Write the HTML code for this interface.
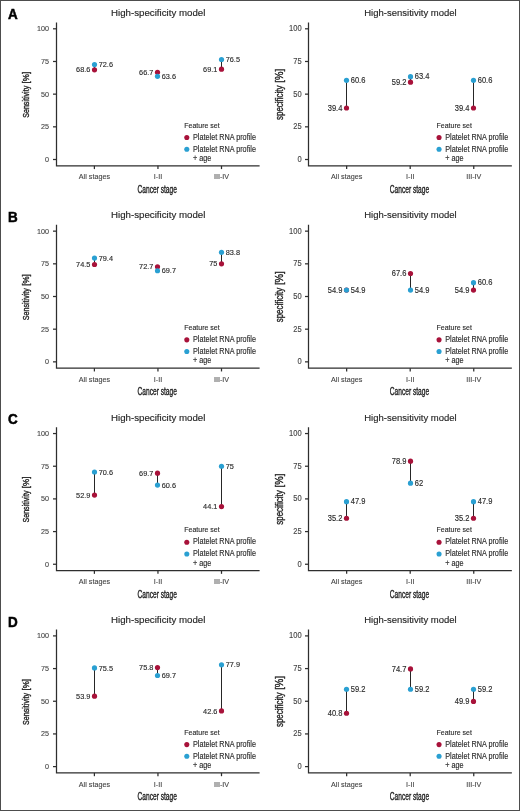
<!DOCTYPE html>
<html><head><meta charset="utf-8"><style>
html,body{margin:0;padding:0;background:#fff;}
svg{display:block;font-family:"Liberation Sans", sans-serif;filter:blur(0.3px);}
.s{fill:#2b2b2b;stroke:#2b2b2b;stroke-width:0.14px;}
.k{fill:#444;stroke:#444;stroke-width:0.12px;}
.t{fill:#262626;stroke:#262626;stroke-width:0.15px;}
.at{fill:#262626;stroke:#262626;stroke-width:0.38px;}
.l{fill:#000;stroke:#000;stroke-width:0.5px;font-weight:bold;}
.ax{fill:none;stroke:#2e2e2e;stroke-width:1.25px;}
.seg{fill:none;stroke:#262626;stroke-width:1.0px;}
</style></head><body>
<svg width="520" height="811" viewBox="0 0 520 811">
<rect x="0" y="0" width="520" height="811" fill="#fff"/>
<g transform="translate(0,0)">
<text transform="translate(158.2,15.8) scale(0.990,1)" text-anchor="middle" font-size="9.8" class="t">High-specificity model</text>
<text transform="translate(8.0,19.4) scale(0.955,1)" font-size="14.1" class="l">A</text>
<path d="M56.5,22.5V165.8H259.6" class="ax"/>
<path d="M53.0,159.50H56.5" class="ax"/>
<text transform="translate(49.00,162.05) scale(0.8929,1)" text-anchor="end" font-size="8.064" class="k">0</text>
<path d="M53.0,126.83H56.5" class="ax"/>
<text transform="translate(49.00,129.38) scale(0.8929,1)" text-anchor="end" font-size="8.064" class="k">25</text>
<path d="M53.0,94.15H56.5" class="ax"/>
<text transform="translate(49.00,96.70) scale(0.8929,1)" text-anchor="end" font-size="8.064" class="k">50</text>
<path d="M53.0,61.48H56.5" class="ax"/>
<text transform="translate(49.00,64.03) scale(0.8929,1)" text-anchor="end" font-size="8.064" class="k">75</text>
<path d="M53.0,28.80H56.5" class="ax"/>
<text transform="translate(49.00,31.35) scale(0.8929,1)" text-anchor="end" font-size="8.064" class="k">100</text>
<path d="M94.4,165.8V169.10000000000002" class="ax"/>
<text transform="translate(94.40,179.40) scale(0.8929,1)" text-anchor="middle" font-size="8.064" class="k">All stages</text>
<path d="M157.95,165.8V169.10000000000002" class="ax"/>
<text transform="translate(157.95,179.40) scale(0.8929,1)" text-anchor="middle" font-size="8.064" class="k">I-II</text>
<path d="M221.5,165.8V169.10000000000002" class="ax"/>
<text transform="translate(221.50,179.40) scale(0.8929,1)" text-anchor="middle" font-size="8.064" class="k">III-IV</text>
<text transform="translate(157.2,193.0) scale(0.637,1)" text-anchor="middle" font-size="10.4" class="at">Cancer stage</text>
<text transform="translate(29.4,117.8) rotate(-90) scale(0.7562,1)" font-size="9.4" class="at">Sensitivity</text>
<text transform="translate(29.4,83.4) rotate(-90) scale(0.8541,1)" font-size="9.4" class="at">[%]</text>
<text transform="translate(184.30,127.70) scale(0.8929,1)" font-size="7.840" class="s">Feature set</text>
<circle cx="186.8" cy="137.5" r="2.55" fill="#a8123a"/>
<circle cx="186.8" cy="149.2" r="2.55" fill="#2aa0d2"/>
<text transform="translate(193.00,139.70) scale(0.8929,1)" font-size="8.142" class="s">Platelet RNA profile</text>
<text transform="translate(193.00,151.60) scale(0.8929,1)" font-size="8.142" class="s">Platelet RNA profile</text>
<text transform="translate(193.00,160.90) scale(0.8929,1)" font-size="8.142" class="s">+ age</text>
<path d="M94.5,69.84V64.61" class="seg"/>
<circle cx="94.5" cy="69.84" r="2.6" fill="#a8123a"/>
<circle cx="94.5" cy="64.61" r="2.6" fill="#2aa0d2"/>
<text transform="translate(90.40,72.44) scale(0.9524,1)" text-anchor="end" font-size="7.718" class="s">68.6</text>
<text transform="translate(98.70,67.21) scale(0.9524,1)" font-size="7.718" class="s">72.6</text>
<path d="M157.5,72.32V76.37" class="seg"/>
<circle cx="157.5" cy="72.32" r="2.6" fill="#a8123a"/>
<circle cx="157.5" cy="76.37" r="2.6" fill="#2aa0d2"/>
<text transform="translate(153.40,74.92) scale(0.9524,1)" text-anchor="end" font-size="7.718" class="s">66.7</text>
<text transform="translate(161.70,78.97) scale(0.9524,1)" font-size="7.718" class="s">63.6</text>
<path d="M221.5,69.19V59.51" class="seg"/>
<circle cx="221.5" cy="69.19" r="2.6" fill="#a8123a"/>
<circle cx="221.5" cy="59.51" r="2.6" fill="#2aa0d2"/>
<text transform="translate(217.40,71.79) scale(0.9524,1)" text-anchor="end" font-size="7.718" class="s">69.1</text>
<text transform="translate(225.70,62.11) scale(0.9524,1)" font-size="7.718" class="s">76.5</text>
</g>
<g transform="translate(252.25,0)">
<text transform="translate(158.2,15.8) scale(0.972,1)" text-anchor="middle" font-size="9.8" class="t">High-sensitivity model</text>
<path d="M56.25,22.5V165.8H259.6" class="ax"/>
<path d="M52.75,159.50H56.25" class="ax"/>
<text transform="translate(49.40,162.05) scale(0.8929,1)" text-anchor="end" font-size="8.456" class="k">0</text>
<path d="M52.75,126.83H56.25" class="ax"/>
<text transform="translate(49.40,129.38) scale(0.8929,1)" text-anchor="end" font-size="8.456" class="k">25</text>
<path d="M52.75,94.15H56.25" class="ax"/>
<text transform="translate(49.40,96.70) scale(0.8929,1)" text-anchor="end" font-size="8.456" class="k">50</text>
<path d="M52.75,61.48H56.25" class="ax"/>
<text transform="translate(49.40,64.03) scale(0.8929,1)" text-anchor="end" font-size="8.456" class="k">75</text>
<path d="M52.75,28.80H56.25" class="ax"/>
<text transform="translate(49.40,31.35) scale(0.8929,1)" text-anchor="end" font-size="8.456" class="k">100</text>
<path d="M94.4,165.8V169.10000000000002" class="ax"/>
<text transform="translate(94.40,179.40) scale(0.8929,1)" text-anchor="middle" font-size="8.064" class="k">All stages</text>
<path d="M157.95,165.8V169.10000000000002" class="ax"/>
<text transform="translate(157.95,179.40) scale(0.8929,1)" text-anchor="middle" font-size="8.064" class="k">I-II</text>
<path d="M221.5,165.8V169.10000000000002" class="ax"/>
<text transform="translate(221.50,179.40) scale(0.8929,1)" text-anchor="middle" font-size="8.064" class="k">III-IV</text>
<text transform="translate(157.2,193.0) scale(0.637,1)" text-anchor="middle" font-size="10.4" class="at">Cancer stage</text>
<text transform="translate(30.6,120.0) rotate(-90) scale(0.7903,1)" font-size="10.1" class="at">specificity</text>
<text transform="translate(30.6,82.7) rotate(-90) scale(0.9457,1)" font-size="10.1" class="at">[%]</text>
<text transform="translate(184.30,127.70) scale(0.8929,1)" font-size="7.840" class="s">Feature set</text>
<circle cx="186.8" cy="137.5" r="2.55" fill="#a8123a"/>
<circle cx="186.8" cy="149.2" r="2.55" fill="#2aa0d2"/>
<text transform="translate(193.00,139.70) scale(0.8929,1)" font-size="8.142" class="s">Platelet RNA profile</text>
<text transform="translate(193.00,151.60) scale(0.8929,1)" font-size="8.142" class="s">Platelet RNA profile</text>
<text transform="translate(193.00,160.90) scale(0.8929,1)" font-size="8.142" class="s">+ age</text>
<path d="M94.25,108.00V80.30" class="seg"/>
<circle cx="94.25" cy="108.00" r="2.6" fill="#a8123a"/>
<circle cx="94.25" cy="80.30" r="2.6" fill="#2aa0d2"/>
<text transform="translate(90.15,110.60) scale(0.9259,1)" text-anchor="end" font-size="8.154" class="s">39.4</text>
<text transform="translate(98.45,82.90) scale(0.9259,1)" font-size="8.154" class="s">60.6</text>
<path d="M158.25,82.13V76.64" class="seg"/>
<circle cx="158.25" cy="82.13" r="2.6" fill="#a8123a"/>
<circle cx="158.25" cy="76.64" r="2.6" fill="#2aa0d2"/>
<text transform="translate(154.15,84.73) scale(0.9259,1)" text-anchor="end" font-size="8.154" class="s">59.2</text>
<text transform="translate(162.45,79.24) scale(0.9259,1)" font-size="8.154" class="s">63.4</text>
<path d="M221.25,108.00V80.30" class="seg"/>
<circle cx="221.25" cy="108.00" r="2.6" fill="#a8123a"/>
<circle cx="221.25" cy="80.30" r="2.6" fill="#2aa0d2"/>
<text transform="translate(217.15,110.60) scale(0.9259,1)" text-anchor="end" font-size="8.154" class="s">39.4</text>
<text transform="translate(225.45,82.90) scale(0.9259,1)" font-size="8.154" class="s">60.6</text>
</g>
<g transform="translate(0,202.35)">
<text transform="translate(158.2,15.8) scale(0.990,1)" text-anchor="middle" font-size="9.8" class="t">High-specificity model</text>
<text transform="translate(8.0,19.4) scale(0.955,1)" font-size="14.1" class="l">B</text>
<path d="M56.5,22.5V165.8H259.6" class="ax"/>
<path d="M53.0,159.50H56.5" class="ax"/>
<text transform="translate(49.00,162.05) scale(0.8929,1)" text-anchor="end" font-size="8.064" class="k">0</text>
<path d="M53.0,126.83H56.5" class="ax"/>
<text transform="translate(49.00,129.38) scale(0.8929,1)" text-anchor="end" font-size="8.064" class="k">25</text>
<path d="M53.0,94.15H56.5" class="ax"/>
<text transform="translate(49.00,96.70) scale(0.8929,1)" text-anchor="end" font-size="8.064" class="k">50</text>
<path d="M53.0,61.48H56.5" class="ax"/>
<text transform="translate(49.00,64.03) scale(0.8929,1)" text-anchor="end" font-size="8.064" class="k">75</text>
<path d="M53.0,28.80H56.5" class="ax"/>
<text transform="translate(49.00,31.35) scale(0.8929,1)" text-anchor="end" font-size="8.064" class="k">100</text>
<path d="M94.4,165.8V169.10000000000002" class="ax"/>
<text transform="translate(94.40,179.40) scale(0.8929,1)" text-anchor="middle" font-size="8.064" class="k">All stages</text>
<path d="M157.95,165.8V169.10000000000002" class="ax"/>
<text transform="translate(157.95,179.40) scale(0.8929,1)" text-anchor="middle" font-size="8.064" class="k">I-II</text>
<path d="M221.5,165.8V169.10000000000002" class="ax"/>
<text transform="translate(221.50,179.40) scale(0.8929,1)" text-anchor="middle" font-size="8.064" class="k">III-IV</text>
<text transform="translate(157.2,193.0) scale(0.637,1)" text-anchor="middle" font-size="10.4" class="at">Cancer stage</text>
<text transform="translate(29.4,117.8) rotate(-90) scale(0.7562,1)" font-size="9.4" class="at">Sensitivity</text>
<text transform="translate(29.4,83.4) rotate(-90) scale(0.8541,1)" font-size="9.4" class="at">[%]</text>
<text transform="translate(184.30,127.70) scale(0.8929,1)" font-size="7.840" class="s">Feature set</text>
<circle cx="186.8" cy="137.5" r="2.55" fill="#a8123a"/>
<circle cx="186.8" cy="149.2" r="2.55" fill="#2aa0d2"/>
<text transform="translate(193.00,139.70) scale(0.8929,1)" font-size="8.142" class="s">Platelet RNA profile</text>
<text transform="translate(193.00,151.60) scale(0.8929,1)" font-size="8.142" class="s">Platelet RNA profile</text>
<text transform="translate(193.00,160.90) scale(0.8929,1)" font-size="8.142" class="s">+ age</text>
<path d="M94.5,62.13V55.72" class="seg"/>
<circle cx="94.5" cy="62.13" r="2.6" fill="#a8123a"/>
<circle cx="94.5" cy="55.72" r="2.6" fill="#2aa0d2"/>
<text transform="translate(90.40,64.73) scale(0.9524,1)" text-anchor="end" font-size="7.718" class="s">74.5</text>
<text transform="translate(98.70,58.32) scale(0.9524,1)" font-size="7.718" class="s">79.4</text>
<path d="M157.5,64.48V68.40" class="seg"/>
<circle cx="157.5" cy="64.48" r="2.6" fill="#a8123a"/>
<circle cx="157.5" cy="68.40" r="2.6" fill="#2aa0d2"/>
<text transform="translate(153.40,67.08) scale(0.9524,1)" text-anchor="end" font-size="7.718" class="s">72.7</text>
<text transform="translate(161.70,71.00) scale(0.9524,1)" font-size="7.718" class="s">69.7</text>
<path d="M221.5,61.48V49.97" class="seg"/>
<circle cx="221.5" cy="61.48" r="2.6" fill="#a8123a"/>
<circle cx="221.5" cy="49.97" r="2.6" fill="#2aa0d2"/>
<text transform="translate(217.40,64.08) scale(0.9524,1)" text-anchor="end" font-size="7.718" class="s">75</text>
<text transform="translate(225.70,52.57) scale(0.9524,1)" font-size="7.718" class="s">83.8</text>
</g>
<g transform="translate(252.25,202.35)">
<text transform="translate(158.2,15.8) scale(0.972,1)" text-anchor="middle" font-size="9.8" class="t">High-sensitivity model</text>
<path d="M56.25,22.5V165.8H259.6" class="ax"/>
<path d="M52.75,159.50H56.25" class="ax"/>
<text transform="translate(49.40,162.05) scale(0.8929,1)" text-anchor="end" font-size="8.456" class="k">0</text>
<path d="M52.75,126.83H56.25" class="ax"/>
<text transform="translate(49.40,129.38) scale(0.8929,1)" text-anchor="end" font-size="8.456" class="k">25</text>
<path d="M52.75,94.15H56.25" class="ax"/>
<text transform="translate(49.40,96.70) scale(0.8929,1)" text-anchor="end" font-size="8.456" class="k">50</text>
<path d="M52.75,61.48H56.25" class="ax"/>
<text transform="translate(49.40,64.03) scale(0.8929,1)" text-anchor="end" font-size="8.456" class="k">75</text>
<path d="M52.75,28.80H56.25" class="ax"/>
<text transform="translate(49.40,31.35) scale(0.8929,1)" text-anchor="end" font-size="8.456" class="k">100</text>
<path d="M94.4,165.8V169.10000000000002" class="ax"/>
<text transform="translate(94.40,179.40) scale(0.8929,1)" text-anchor="middle" font-size="8.064" class="k">All stages</text>
<path d="M157.95,165.8V169.10000000000002" class="ax"/>
<text transform="translate(157.95,179.40) scale(0.8929,1)" text-anchor="middle" font-size="8.064" class="k">I-II</text>
<path d="M221.5,165.8V169.10000000000002" class="ax"/>
<text transform="translate(221.50,179.40) scale(0.8929,1)" text-anchor="middle" font-size="8.064" class="k">III-IV</text>
<text transform="translate(157.2,193.0) scale(0.637,1)" text-anchor="middle" font-size="10.4" class="at">Cancer stage</text>
<text transform="translate(30.6,120.0) rotate(-90) scale(0.7903,1)" font-size="10.1" class="at">specificity</text>
<text transform="translate(30.6,82.7) rotate(-90) scale(0.9457,1)" font-size="10.1" class="at">[%]</text>
<text transform="translate(184.30,127.70) scale(0.8929,1)" font-size="7.840" class="s">Feature set</text>
<circle cx="186.8" cy="137.5" r="2.55" fill="#a8123a"/>
<circle cx="186.8" cy="149.2" r="2.55" fill="#2aa0d2"/>
<text transform="translate(193.00,139.70) scale(0.8929,1)" font-size="8.142" class="s">Platelet RNA profile</text>
<text transform="translate(193.00,151.60) scale(0.8929,1)" font-size="8.142" class="s">Platelet RNA profile</text>
<text transform="translate(193.00,160.90) scale(0.8929,1)" font-size="8.142" class="s">+ age</text>
<circle cx="94.25" cy="87.75" r="2.6" fill="#a8123a"/>
<circle cx="94.25" cy="87.75" r="2.6" fill="#2aa0d2"/>
<text transform="translate(90.15,90.35) scale(0.9259,1)" text-anchor="end" font-size="8.154" class="s">54.9</text>
<text transform="translate(98.45,90.35) scale(0.9259,1)" font-size="8.154" class="s">54.9</text>
<path d="M158.25,71.15V87.75" class="seg"/>
<circle cx="158.25" cy="71.15" r="2.6" fill="#a8123a"/>
<circle cx="158.25" cy="87.75" r="2.6" fill="#2aa0d2"/>
<text transform="translate(154.15,73.75) scale(0.9259,1)" text-anchor="end" font-size="8.154" class="s">67.6</text>
<text transform="translate(162.45,90.35) scale(0.9259,1)" font-size="8.154" class="s">54.9</text>
<path d="M221.25,87.75V80.30" class="seg"/>
<circle cx="221.25" cy="87.75" r="2.6" fill="#a8123a"/>
<circle cx="221.25" cy="80.30" r="2.6" fill="#2aa0d2"/>
<text transform="translate(217.15,90.35) scale(0.9259,1)" text-anchor="end" font-size="8.154" class="s">54.9</text>
<text transform="translate(225.45,82.90) scale(0.9259,1)" font-size="8.154" class="s">60.6</text>
</g>
<g transform="translate(0,404.75)">
<text transform="translate(158.2,15.8) scale(0.990,1)" text-anchor="middle" font-size="9.8" class="t">High-specificity model</text>
<text transform="translate(8.0,19.4) scale(0.955,1)" font-size="14.1" class="l">C</text>
<path d="M56.5,22.5V165.8H259.6" class="ax"/>
<path d="M53.0,159.50H56.5" class="ax"/>
<text transform="translate(49.00,162.05) scale(0.8929,1)" text-anchor="end" font-size="8.064" class="k">0</text>
<path d="M53.0,126.83H56.5" class="ax"/>
<text transform="translate(49.00,129.38) scale(0.8929,1)" text-anchor="end" font-size="8.064" class="k">25</text>
<path d="M53.0,94.15H56.5" class="ax"/>
<text transform="translate(49.00,96.70) scale(0.8929,1)" text-anchor="end" font-size="8.064" class="k">50</text>
<path d="M53.0,61.48H56.5" class="ax"/>
<text transform="translate(49.00,64.03) scale(0.8929,1)" text-anchor="end" font-size="8.064" class="k">75</text>
<path d="M53.0,28.80H56.5" class="ax"/>
<text transform="translate(49.00,31.35) scale(0.8929,1)" text-anchor="end" font-size="8.064" class="k">100</text>
<path d="M94.4,165.8V169.10000000000002" class="ax"/>
<text transform="translate(94.40,179.40) scale(0.8929,1)" text-anchor="middle" font-size="8.064" class="k">All stages</text>
<path d="M157.95,165.8V169.10000000000002" class="ax"/>
<text transform="translate(157.95,179.40) scale(0.8929,1)" text-anchor="middle" font-size="8.064" class="k">I-II</text>
<path d="M221.5,165.8V169.10000000000002" class="ax"/>
<text transform="translate(221.50,179.40) scale(0.8929,1)" text-anchor="middle" font-size="8.064" class="k">III-IV</text>
<text transform="translate(157.2,193.0) scale(0.637,1)" text-anchor="middle" font-size="10.4" class="at">Cancer stage</text>
<text transform="translate(29.4,117.8) rotate(-90) scale(0.7562,1)" font-size="9.4" class="at">Sensitivity</text>
<text transform="translate(29.4,83.4) rotate(-90) scale(0.8541,1)" font-size="9.4" class="at">[%]</text>
<text transform="translate(184.30,127.70) scale(0.8929,1)" font-size="7.840" class="s">Feature set</text>
<circle cx="186.8" cy="137.5" r="2.55" fill="#a8123a"/>
<circle cx="186.8" cy="149.2" r="2.55" fill="#2aa0d2"/>
<text transform="translate(193.00,139.70) scale(0.8929,1)" font-size="8.142" class="s">Platelet RNA profile</text>
<text transform="translate(193.00,151.60) scale(0.8929,1)" font-size="8.142" class="s">Platelet RNA profile</text>
<text transform="translate(193.00,160.90) scale(0.8929,1)" font-size="8.142" class="s">+ age</text>
<path d="M94.5,90.36V67.23" class="seg"/>
<circle cx="94.5" cy="90.36" r="2.6" fill="#a8123a"/>
<circle cx="94.5" cy="67.23" r="2.6" fill="#2aa0d2"/>
<text transform="translate(90.40,92.96) scale(0.9524,1)" text-anchor="end" font-size="7.718" class="s">52.9</text>
<text transform="translate(98.70,69.83) scale(0.9524,1)" font-size="7.718" class="s">70.6</text>
<path d="M157.5,68.40V80.30" class="seg"/>
<circle cx="157.5" cy="68.40" r="2.6" fill="#a8123a"/>
<circle cx="157.5" cy="80.30" r="2.6" fill="#2aa0d2"/>
<text transform="translate(153.40,71.00) scale(0.9524,1)" text-anchor="end" font-size="7.718" class="s">69.7</text>
<text transform="translate(161.70,82.90) scale(0.9524,1)" font-size="7.718" class="s">60.6</text>
<path d="M221.5,101.86V61.48" class="seg"/>
<circle cx="221.5" cy="101.86" r="2.6" fill="#a8123a"/>
<circle cx="221.5" cy="61.48" r="2.6" fill="#2aa0d2"/>
<text transform="translate(217.40,104.46) scale(0.9524,1)" text-anchor="end" font-size="7.718" class="s">44.1</text>
<text transform="translate(225.70,64.08) scale(0.9524,1)" font-size="7.718" class="s">75</text>
</g>
<g transform="translate(252.25,404.75)">
<text transform="translate(158.2,15.8) scale(0.972,1)" text-anchor="middle" font-size="9.8" class="t">High-sensitivity model</text>
<path d="M56.25,22.5V165.8H259.6" class="ax"/>
<path d="M52.75,159.50H56.25" class="ax"/>
<text transform="translate(49.40,162.05) scale(0.8929,1)" text-anchor="end" font-size="8.456" class="k">0</text>
<path d="M52.75,126.83H56.25" class="ax"/>
<text transform="translate(49.40,129.38) scale(0.8929,1)" text-anchor="end" font-size="8.456" class="k">25</text>
<path d="M52.75,94.15H56.25" class="ax"/>
<text transform="translate(49.40,96.70) scale(0.8929,1)" text-anchor="end" font-size="8.456" class="k">50</text>
<path d="M52.75,61.48H56.25" class="ax"/>
<text transform="translate(49.40,64.03) scale(0.8929,1)" text-anchor="end" font-size="8.456" class="k">75</text>
<path d="M52.75,28.80H56.25" class="ax"/>
<text transform="translate(49.40,31.35) scale(0.8929,1)" text-anchor="end" font-size="8.456" class="k">100</text>
<path d="M94.4,165.8V169.10000000000002" class="ax"/>
<text transform="translate(94.40,179.40) scale(0.8929,1)" text-anchor="middle" font-size="8.064" class="k">All stages</text>
<path d="M157.95,165.8V169.10000000000002" class="ax"/>
<text transform="translate(157.95,179.40) scale(0.8929,1)" text-anchor="middle" font-size="8.064" class="k">I-II</text>
<path d="M221.5,165.8V169.10000000000002" class="ax"/>
<text transform="translate(221.50,179.40) scale(0.8929,1)" text-anchor="middle" font-size="8.064" class="k">III-IV</text>
<text transform="translate(157.2,193.0) scale(0.637,1)" text-anchor="middle" font-size="10.4" class="at">Cancer stage</text>
<text transform="translate(30.6,120.0) rotate(-90) scale(0.7903,1)" font-size="10.1" class="at">specificity</text>
<text transform="translate(30.6,82.7) rotate(-90) scale(0.9457,1)" font-size="10.1" class="at">[%]</text>
<text transform="translate(184.30,127.70) scale(0.8929,1)" font-size="7.840" class="s">Feature set</text>
<circle cx="186.8" cy="137.5" r="2.55" fill="#a8123a"/>
<circle cx="186.8" cy="149.2" r="2.55" fill="#2aa0d2"/>
<text transform="translate(193.00,139.70) scale(0.8929,1)" font-size="8.142" class="s">Platelet RNA profile</text>
<text transform="translate(193.00,151.60) scale(0.8929,1)" font-size="8.142" class="s">Platelet RNA profile</text>
<text transform="translate(193.00,160.90) scale(0.8929,1)" font-size="8.142" class="s">+ age</text>
<path d="M94.25,113.49V96.89" class="seg"/>
<circle cx="94.25" cy="113.49" r="2.6" fill="#a8123a"/>
<circle cx="94.25" cy="96.89" r="2.6" fill="#2aa0d2"/>
<text transform="translate(90.15,116.09) scale(0.9259,1)" text-anchor="end" font-size="8.154" class="s">35.2</text>
<text transform="translate(98.45,99.49) scale(0.9259,1)" font-size="8.154" class="s">47.9</text>
<path d="M158.25,56.38V78.47" class="seg"/>
<circle cx="158.25" cy="56.38" r="2.6" fill="#a8123a"/>
<circle cx="158.25" cy="78.47" r="2.6" fill="#2aa0d2"/>
<text transform="translate(154.15,58.98) scale(0.9259,1)" text-anchor="end" font-size="8.154" class="s">78.9</text>
<text transform="translate(162.45,81.07) scale(0.9259,1)" font-size="8.154" class="s">62</text>
<path d="M221.25,113.49V96.89" class="seg"/>
<circle cx="221.25" cy="113.49" r="2.6" fill="#a8123a"/>
<circle cx="221.25" cy="96.89" r="2.6" fill="#2aa0d2"/>
<text transform="translate(217.15,116.09) scale(0.9259,1)" text-anchor="end" font-size="8.154" class="s">35.2</text>
<text transform="translate(225.45,99.49) scale(0.9259,1)" font-size="8.154" class="s">47.9</text>
</g>
<g transform="translate(0,607.1)">
<text transform="translate(158.2,15.8) scale(0.990,1)" text-anchor="middle" font-size="9.8" class="t">High-specificity model</text>
<text transform="translate(8.0,19.4) scale(0.955,1)" font-size="14.1" class="l">D</text>
<path d="M56.5,22.5V165.8H259.6" class="ax"/>
<path d="M53.0,159.50H56.5" class="ax"/>
<text transform="translate(49.00,162.05) scale(0.8929,1)" text-anchor="end" font-size="8.064" class="k">0</text>
<path d="M53.0,126.83H56.5" class="ax"/>
<text transform="translate(49.00,129.38) scale(0.8929,1)" text-anchor="end" font-size="8.064" class="k">25</text>
<path d="M53.0,94.15H56.5" class="ax"/>
<text transform="translate(49.00,96.70) scale(0.8929,1)" text-anchor="end" font-size="8.064" class="k">50</text>
<path d="M53.0,61.48H56.5" class="ax"/>
<text transform="translate(49.00,64.03) scale(0.8929,1)" text-anchor="end" font-size="8.064" class="k">75</text>
<path d="M53.0,28.80H56.5" class="ax"/>
<text transform="translate(49.00,31.35) scale(0.8929,1)" text-anchor="end" font-size="8.064" class="k">100</text>
<path d="M94.4,165.8V169.10000000000002" class="ax"/>
<text transform="translate(94.40,179.40) scale(0.8929,1)" text-anchor="middle" font-size="8.064" class="k">All stages</text>
<path d="M157.95,165.8V169.10000000000002" class="ax"/>
<text transform="translate(157.95,179.40) scale(0.8929,1)" text-anchor="middle" font-size="8.064" class="k">I-II</text>
<path d="M221.5,165.8V169.10000000000002" class="ax"/>
<text transform="translate(221.50,179.40) scale(0.8929,1)" text-anchor="middle" font-size="8.064" class="k">III-IV</text>
<text transform="translate(157.2,193.0) scale(0.637,1)" text-anchor="middle" font-size="10.4" class="at">Cancer stage</text>
<text transform="translate(29.4,117.8) rotate(-90) scale(0.7562,1)" font-size="9.4" class="at">Sensitivity</text>
<text transform="translate(29.4,83.4) rotate(-90) scale(0.8541,1)" font-size="9.4" class="at">[%]</text>
<text transform="translate(184.30,127.70) scale(0.8929,1)" font-size="7.840" class="s">Feature set</text>
<circle cx="186.8" cy="137.5" r="2.55" fill="#a8123a"/>
<circle cx="186.8" cy="149.2" r="2.55" fill="#2aa0d2"/>
<text transform="translate(193.00,139.70) scale(0.8929,1)" font-size="8.142" class="s">Platelet RNA profile</text>
<text transform="translate(193.00,151.60) scale(0.8929,1)" font-size="8.142" class="s">Platelet RNA profile</text>
<text transform="translate(193.00,160.90) scale(0.8929,1)" font-size="8.142" class="s">+ age</text>
<path d="M94.5,89.05V60.82" class="seg"/>
<circle cx="94.5" cy="89.05" r="2.6" fill="#a8123a"/>
<circle cx="94.5" cy="60.82" r="2.6" fill="#2aa0d2"/>
<text transform="translate(90.40,91.65) scale(0.9524,1)" text-anchor="end" font-size="7.718" class="s">53.9</text>
<text transform="translate(98.70,63.42) scale(0.9524,1)" font-size="7.718" class="s">75.5</text>
<path d="M157.5,60.43V68.40" class="seg"/>
<circle cx="157.5" cy="60.43" r="2.6" fill="#a8123a"/>
<circle cx="157.5" cy="68.40" r="2.6" fill="#2aa0d2"/>
<text transform="translate(153.40,63.03) scale(0.9524,1)" text-anchor="end" font-size="7.718" class="s">75.8</text>
<text transform="translate(161.70,71.00) scale(0.9524,1)" font-size="7.718" class="s">69.7</text>
<path d="M221.5,103.82V57.68" class="seg"/>
<circle cx="221.5" cy="103.82" r="2.6" fill="#a8123a"/>
<circle cx="221.5" cy="57.68" r="2.6" fill="#2aa0d2"/>
<text transform="translate(217.40,106.42) scale(0.9524,1)" text-anchor="end" font-size="7.718" class="s">42.6</text>
<text transform="translate(225.70,60.28) scale(0.9524,1)" font-size="7.718" class="s">77.9</text>
</g>
<g transform="translate(252.25,607.1)">
<text transform="translate(158.2,15.8) scale(0.972,1)" text-anchor="middle" font-size="9.8" class="t">High-sensitivity model</text>
<path d="M56.25,22.5V165.8H259.6" class="ax"/>
<path d="M52.75,159.50H56.25" class="ax"/>
<text transform="translate(49.40,162.05) scale(0.8929,1)" text-anchor="end" font-size="8.456" class="k">0</text>
<path d="M52.75,126.83H56.25" class="ax"/>
<text transform="translate(49.40,129.38) scale(0.8929,1)" text-anchor="end" font-size="8.456" class="k">25</text>
<path d="M52.75,94.15H56.25" class="ax"/>
<text transform="translate(49.40,96.70) scale(0.8929,1)" text-anchor="end" font-size="8.456" class="k">50</text>
<path d="M52.75,61.48H56.25" class="ax"/>
<text transform="translate(49.40,64.03) scale(0.8929,1)" text-anchor="end" font-size="8.456" class="k">75</text>
<path d="M52.75,28.80H56.25" class="ax"/>
<text transform="translate(49.40,31.35) scale(0.8929,1)" text-anchor="end" font-size="8.456" class="k">100</text>
<path d="M94.4,165.8V169.10000000000002" class="ax"/>
<text transform="translate(94.40,179.40) scale(0.8929,1)" text-anchor="middle" font-size="8.064" class="k">All stages</text>
<path d="M157.95,165.8V169.10000000000002" class="ax"/>
<text transform="translate(157.95,179.40) scale(0.8929,1)" text-anchor="middle" font-size="8.064" class="k">I-II</text>
<path d="M221.5,165.8V169.10000000000002" class="ax"/>
<text transform="translate(221.50,179.40) scale(0.8929,1)" text-anchor="middle" font-size="8.064" class="k">III-IV</text>
<text transform="translate(157.2,193.0) scale(0.637,1)" text-anchor="middle" font-size="10.4" class="at">Cancer stage</text>
<text transform="translate(30.6,120.0) rotate(-90) scale(0.7903,1)" font-size="10.1" class="at">specificity</text>
<text transform="translate(30.6,82.7) rotate(-90) scale(0.9457,1)" font-size="10.1" class="at">[%]</text>
<text transform="translate(184.30,127.70) scale(0.8929,1)" font-size="7.840" class="s">Feature set</text>
<circle cx="186.8" cy="137.5" r="2.55" fill="#a8123a"/>
<circle cx="186.8" cy="149.2" r="2.55" fill="#2aa0d2"/>
<text transform="translate(193.00,139.70) scale(0.8929,1)" font-size="8.142" class="s">Platelet RNA profile</text>
<text transform="translate(193.00,151.60) scale(0.8929,1)" font-size="8.142" class="s">Platelet RNA profile</text>
<text transform="translate(193.00,160.90) scale(0.8929,1)" font-size="8.142" class="s">+ age</text>
<path d="M94.25,106.17V82.13" class="seg"/>
<circle cx="94.25" cy="106.17" r="2.6" fill="#a8123a"/>
<circle cx="94.25" cy="82.13" r="2.6" fill="#2aa0d2"/>
<text transform="translate(90.15,108.77) scale(0.9259,1)" text-anchor="end" font-size="8.154" class="s">40.8</text>
<text transform="translate(98.45,84.73) scale(0.9259,1)" font-size="8.154" class="s">59.2</text>
<path d="M158.25,61.87V82.13" class="seg"/>
<circle cx="158.25" cy="61.87" r="2.6" fill="#a8123a"/>
<circle cx="158.25" cy="82.13" r="2.6" fill="#2aa0d2"/>
<text transform="translate(154.15,64.47) scale(0.9259,1)" text-anchor="end" font-size="8.154" class="s">74.7</text>
<text transform="translate(162.45,84.73) scale(0.9259,1)" font-size="8.154" class="s">59.2</text>
<path d="M221.25,94.28V82.13" class="seg"/>
<circle cx="221.25" cy="94.28" r="2.6" fill="#a8123a"/>
<circle cx="221.25" cy="82.13" r="2.6" fill="#2aa0d2"/>
<text transform="translate(217.15,96.88) scale(0.9259,1)" text-anchor="end" font-size="8.154" class="s">49.9</text>
<text transform="translate(225.45,84.73) scale(0.9259,1)" font-size="8.154" class="s">59.2</text>
</g>
<rect x="0.5" y="0.5" width="519" height="810" fill="none" stroke="#4d4d4d" stroke-width="1"/>
</svg>
</body></html>
